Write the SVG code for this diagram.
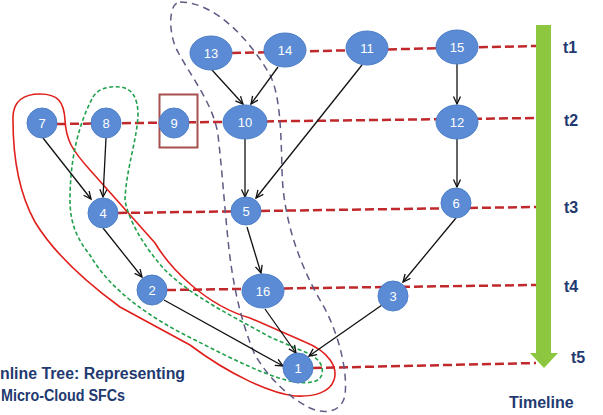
<svg xmlns="http://www.w3.org/2000/svg" width="603" height="415" viewBox="0 0 603 415">
<defs>
<style>
.tl{stroke:#c0282c;stroke-width:2.5;stroke-dasharray:9 4;fill:none}
.edge{stroke:#111;stroke-width:1.3;fill:none;marker-end:url(#arr)}
.node{fill:#5a8bd4;stroke:#4d7fc8;stroke-width:1}
.nl{font-family:"Liberation Sans",Arial,sans-serif;font-size:13px;fill:#fff;text-anchor:middle}
.lab{font-family:"Liberation Sans",Arial,sans-serif;font-size:16px;font-weight:bold;fill:#1f3a70}
</style>
<marker id="arr" markerUnits="userSpaceOnUse" markerWidth="10" markerHeight="10" refX="8" refY="4" orient="auto">
<path d="M0.5,0.5 L8,4 L0.5,7.5" fill="none" stroke="#111" stroke-width="1.3"/>
</marker>
</defs>
<rect width="603" height="415" fill="#fff"/>

<g id="timeline">
<rect x="536" y="25" width="15" height="329" fill="#8dc73f"/>
<polygon points="530,353 558,353 544,368" fill="#8dc73f"/>
<text class="lab" x="563" y="53">t1</text>
<text class="lab" x="564" y="126">t2</text>
<text class="lab" x="564" y="213">t3</text>
<text class="lab" x="564" y="292">t4</text>
<text class="lab" x="571" y="363">t5</text>
<text class="lab" x="509" y="408">Timeline</text>
</g>

<g id="timelines">
<path class="tl" d="M232,53 L536,46"/>
<path class="tl" d="M57,124 L536,118"/>
<path class="tl" d="M118,213 L536,207"/>
<path class="tl" d="M167,290 L536,285"/>
<path class="tl" d="M313,368 L536,363"/>
</g>

<g id="groups">
<path id="red-group" d="M13,120 C12,100 25,94 40,94 C58,94 64,102 65,120 C66,140 72,150 90,170 L155,243 C170,268 205,305 250,318 L305,342 C330,352 338,368 334,380 C330,392 315,397 295,396 C270,393 230,375 190,345 L120,307 C90,285 55,255 35,222 C20,195 13,160 13,120 Z" fill="none" stroke="#e0201c" stroke-width="1.6"/>
<path id="green-group" d="M93,97 C98,88 110,86 120,87 C132,88 138,98 138,115 C137,140 126,170 125,200 C128,220 145,248 165,270 C190,295 230,315 270,337 L300,350 C318,356 324,365 322,374 C320,382 310,384 295,382 C270,378 230,358 195,340 C150,318 110,290 90,255 C78,240 70,225 70,200 C70,160 78,125 93,97 Z" fill="none" stroke="#1fa04a" stroke-width="1.6" stroke-dasharray="4 2.5"/>
<path id="purple-group" d="M180,2 C215,2 250,40 270,75 C280,95 281,130 282,170 C283,220 300,265 320,300 C338,330 348,370 345,395 C342,412 325,415 310,408 C290,398 270,380 255,355 C240,320 232,280 228,240 C224,200 222,170 218,135 C214,105 190,75 178,52 C168,35 168,2 180,2 Z" fill="none" stroke="#5e5b84" stroke-width="1.5" stroke-dasharray="7 5"/>
<rect id="box9" x="159.5" y="94.5" width="38" height="53" fill="none" stroke="#a5504e" stroke-width="2"/>
</g>

<g id="connectors">
<path class="edge" d="M212,70 L243,104"/>
<path class="edge" d="M278,67 L251,104"/>
<path class="edge" d="M362,65 L256,198"/>
<path class="edge" d="M245,139 L245,197"/>
<path class="edge" d="M457,64 L457,104"/>
<path class="edge" d="M457,139 L457,187"/>
<path class="edge" d="M43,138 L91,199"/>
<path class="edge" d="M106,138 L103,197"/>
<path class="edge" d="M103,228 L142,277"/>
<path class="edge" d="M247,227 L261,273"/>
<path class="edge" d="M164,300 L283,366"/>
<path class="edge" d="M265,309 L296,353"/>
<path class="edge" d="M456,218 L403,282"/>
<path class="edge" d="M382,305 L309,356"/>
</g>

<g id="n13"><ellipse class="node" cx="211" cy="53" rx="21" ry="17"/><text class="nl" x="211" y="58">13</text></g>
<g id="n14"><ellipse class="node" cx="285" cy="50" rx="21" ry="17"/><text class="nl" x="285" y="55">14</text></g>
<g id="n11"><ellipse class="node" cx="367" cy="48" rx="21" ry="17"/><text class="nl" x="367" y="53">11</text></g>
<g id="n15"><ellipse class="node" cx="457" cy="47" rx="21" ry="17"/><text class="nl" x="457" y="52">15</text></g>
<g id="n7"><circle class="node" cx="42" cy="123" r="15"/><text class="nl" x="42" y="128">7</text></g>
<g id="n8"><circle class="node" cx="106" cy="123" r="15"/><text class="nl" x="106" y="128">8</text></g>
<g id="n9"><circle class="node" cx="174" cy="123" r="15"/><text class="nl" x="174" y="128">9</text></g>
<g id="n10"><ellipse class="node" cx="245" cy="122" rx="22" ry="17"/><text class="nl" x="245" y="127">10</text></g>
<g id="n12"><ellipse class="node" cx="457" cy="122" rx="21" ry="17"/><text class="nl" x="457" y="127">12</text></g>
<g id="n4"><circle class="node" cx="103" cy="213" r="15"/><text class="nl" x="103" y="218">4</text></g>
<g id="n5"><ellipse class="node" cx="246" cy="211" rx="15" ry="14"/><text class="nl" x="246" y="216">5</text></g>
<g id="n6"><circle class="node" cx="456" cy="203" r="15"/><text class="nl" x="456" y="208">6</text></g>
<g id="n2"><circle class="node" cx="152" cy="290" r="15"/><text class="nl" x="152" y="295">2</text></g>
<g id="n16"><ellipse class="node" cx="263" cy="291" rx="21" ry="17"/><text class="nl" x="263" y="296">16</text></g>
<g id="n3"><circle class="node" cx="393" cy="296" r="15"/><text class="nl" x="393" y="301">3</text></g>
<g id="n1"><circle class="node" cx="298" cy="368" r="15"/><text class="nl" x="298" y="373">1</text></g>

<g id="caption">
<text class="lab" x="0" y="379" textLength="185" lengthAdjust="spacingAndGlyphs">nline Tree: Representing</text>
<text class="lab" x="1" y="401" textLength="124" lengthAdjust="spacingAndGlyphs">Micro-Cloud SFCs</text>
</g>
</svg>
